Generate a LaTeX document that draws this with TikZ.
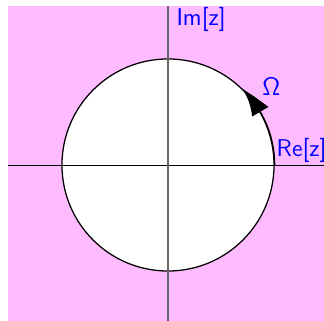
\documentclass[tikz,border=0pt]{standalone}
\usepackage{tikz}
\usetikzlibrary{arrows.meta,bending}

\definecolor{planepink}{RGB}{255,187,255}

\begin{document}
\begin{tikzpicture}[
  axis/.style={draw=black, line width=0.45pt},
  imaxis/.style={draw=black!60, line width=0.6pt},
  unit/.style={draw=black, fill=white, line width=0.6pt},
  lbl/.style={text=blue, font=\sffamily\fontsize{11.5}{13}\selectfont, inner sep=1pt},
  orient/.style={draw=black, line width=0.6pt,
                 -{Latex[length=4.9mm, width=3.2mm, bend]}}
]
\useasboundingbox (-2.8,-2.6) rectangle (2.6,2.75);
\fill[planepink] (-2.667,-2.6) rectangle (2.6,2.65);

% unit circle
\node[unit, circle, minimum size=3.534cm, inner sep=0pt] (uc) at (0,0) {};

% axes
\coordinate (xl) at (-2.667,0);
\coordinate (xr) at (2.6,0);
\coordinate (yb) at (0,-2.6);
\coordinate (yt) at (0,2.65);
\draw[axis] (xl) -- (xr);
\draw[imaxis] (yb) -- (yt);

% orientation arrow on the circle
\draw[orient] (uc.east) arc (0:46:1.767);

\node[lbl, anchor=west] (im) at (0.1,2.42) {Im[z]};
\node[lbl, anchor=west] (re) at (1.77,0.24) {Re[z]};
\node[lbl] (om) at (1.72,1.30) {$\mathsf{\Omega}$};
\end{tikzpicture}
\end{document}
